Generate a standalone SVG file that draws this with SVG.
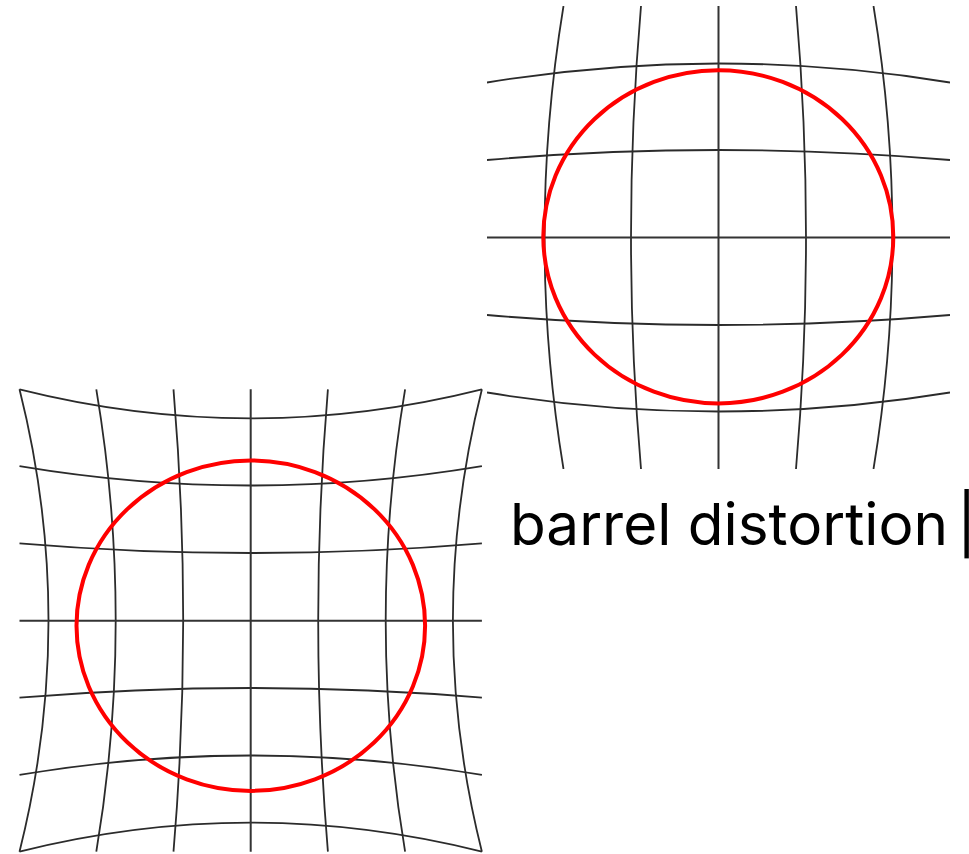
<svg xmlns="http://www.w3.org/2000/svg" width="969" height="854" viewBox="0 0 969 854">
  <style>
    .grid { fill: none; stroke: #2b2b2b; stroke-width: 1.8; }
    .axis { fill: none; stroke: #333; stroke-width: 2; }
    .ring { fill: none; stroke: #ff0000; stroke-width: 4; }
    .label { font-family: Inter, "Noto Sans", "Liberation Sans", sans-serif; font-size: 58px; fill: #000; }
  </style>
  <defs>
    <clipPath id="clipBarrel"><rect x="487" y="6" width="463" height="463"/></clipPath>
  </defs>
  <rect width="969" height="854" fill="#fff"/>

  <g id="barrel" clip-path="url(#clipBarrel)">
    <!-- vertical lines -->
    <path class="grid" d="M641 6 Q621 237.5 641 469"/>
    <path class="grid" d="M796 6 Q816 237.5 796 469"/>
    <path class="grid" d="M563.5 6 Q525.5 237.5 563.5 469"/>
    <path class="grid" d="M873.5 6 Q911.5 237.5 873.5 469"/>
    <path class="grid" d="M486 6 Q429 237.5 486 469"/>
    <path class="grid" d="M951 6 Q1008 237.5 951 469"/>
    <!-- horizontal lines -->
    <path class="grid" d="M487 160 Q718.5 140 950 160"/>
    <path class="grid" d="M487 315 Q718.5 335 950 315"/>
    <path class="grid" d="M487 82.5 Q718.5 44.5 950 82.5"/>
    <path class="grid" d="M487 392.5 Q718.5 430.5 950 392.5"/>
    <path class="grid" d="M487 5 Q718.5 -52 950 5"/>
    <path class="grid" d="M487 470 Q718.5 527 950 470"/>
    <!-- axes -->
    <line class="axis" x1="718.5" y1="6" x2="718.5" y2="469"/>
    <line class="axis" x1="487" y1="237.5" x2="950" y2="237.5"/>
    <ellipse class="ring" cx="718.3" cy="236.8" rx="175" ry="166.6"/>
  </g>

  <g id="pincushion">
    <!-- vertical lines -->
    <path class="grid" d="M173.5 389.3 Q192.9 620.5 173.5 851.7"/>
    <path class="grid" d="M327.9 389.3 Q308.5 620.5 327.9 851.7"/>
    <path class="grid" d="M96.3 389.3 Q135.1 620.5 96.3 851.7"/>
    <path class="grid" d="M405.1 389.3 Q366.3 620.5 405.1 851.7"/>
    <path class="grid" d="M19.5 389.3 Q77.5 620.5 19.5 851.7"/>
    <path class="grid" d="M481.9 389.3 Q423.9 620.5 481.9 851.7"/>
    <!-- horizontal lines -->
    <path class="grid" d="M19.5 543.3 Q250.7 562.7 481.9 543.3"/>
    <path class="grid" d="M19.5 697.7 Q250.7 678.3 481.9 697.7"/>
    <path class="grid" d="M19.5 466.1 Q250.7 504.9 481.9 466.1"/>
    <path class="grid" d="M19.5 774.9 Q250.7 736.1 481.9 774.9"/>
    <path class="grid" d="M19.5 389.3 Q250.7 447.3 481.9 389.3"/>
    <path class="grid" d="M19.5 851.7 Q250.7 793.7 481.9 851.7"/>
    <!-- axes -->
    <line class="axis" x1="250.7" y1="389.3" x2="250.7" y2="851.7"/>
    <line class="axis" x1="19.5" y1="620.8" x2="481.9" y2="620.8"/>
    <ellipse class="ring" cx="250.8" cy="625.7" rx="174.3" ry="165.2"/>
  </g>

  <g id="caption">
    <text class="label" x="510" y="545"><tspan textLength="438" lengthAdjust="spacingAndGlyphs">barrel distortion</tspan> <tspan x="957">|</tspan></text>
  </g>
</svg>
